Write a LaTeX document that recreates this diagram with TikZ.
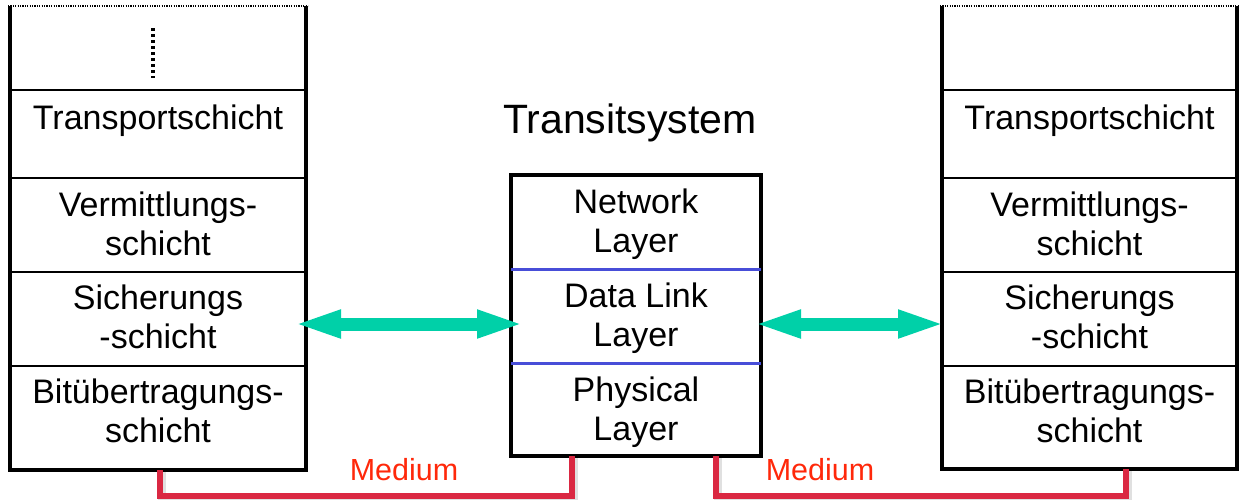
\documentclass[tikz,border=0pt]{standalone}
\usepackage{fontspec}
\setmainfont{Liberation Sans}
\usetikzlibrary{arrows.meta}
\definecolor{arrowgreen}{RGB}{0,208,168}
\definecolor{layerblue}{RGB}{72,78,216}
\definecolor{mediumline}{RGB}{218,40,66}
\definecolor{mediumtext}{RGB}{255,40,10}
\begin{document}
\begin{tikzpicture}[x=1pt,y=-1pt,
  cell/.style={rectangle, draw, line width=2.4pt, inner sep=0pt, outer sep=0pt, minimum width=296pt},
  rcell/.style={cell, minimum width=295pt},
  ccell/.style={rectangle, inner sep=0pt, outer sep=0pt, minimum width=250pt},
  lbl/.style={anchor=north, inner sep=0pt, align=center, font=\fontsize{34}{39.5}\selectfont},
  side/.style={line width=3.6pt},
  topdots/.style={line width=1.2pt, dash pattern=on 1.2pt off 1.2pt},
  vdots/.style={line width=3.4pt, dash pattern=on 3pt off 3pt},
  biarrow/.style={arrowgreen, line width=13pt, {Triangle[length=48pt,width=25pt]}-{Triangle[length=48pt,width=25pt]}},
  medline/.style={mediumline, line width=6pt},
  shadowline/.style={black, opacity=0.12, line width=8pt},
  medtext/.style={text=mediumtext, font=\fontsize{30.5}{35}\selectfont, anchor=base, inner sep=0pt},
]
\useasboundingbox (0,0) rectangle (1239,499);

% ---------- left stack ----------
\node[cell, minimum height=88pt]  (lT) at (158,134) {};
\node[cell, minimum height=94pt]  (lV) at (158,225) {};
\node[cell, minimum height=94pt]  (lS) at (158,319) {};
\node[cell, minimum height=104pt] (lB) at (158,418) {};
\coordinate (lTopL) at (10,6);
\coordinate (lTopR) at (306,6);
\draw[side] (lTopL) -- (lB.south west);
\draw[side] (lTopR) -- (lB.south east);
\draw[side] ([xshift=-1.8pt]lB.south west) -- ([xshift=1.8pt]lB.south east);
\draw[topdots] ([xshift=-2pt]lTopL) -- ([xshift=2pt]lTopR);
\draw[vdots] (153,28) -- (153,78);
\node[lbl] (tlT) at ([yshift=-14.5pt]lT.north) {Transportschicht};
\node[lbl] (tlV) at ([yshift=-13.5pt]lV.north) {Vermittlungs-\\schicht};
\node[lbl] (tlS) at ([yshift=-12.5pt]lS.north) {Sicherungs\\-schicht};
\node[lbl] (tlB) at ([yshift=-12.5pt]lB.north) {Bitübertragungs-\\schicht};

% ---------- right stack ----------
\node[rcell, minimum height=88pt]  (rT) at (1089.5,134) {};
\node[rcell, minimum height=94pt]  (rV) at (1089.5,225) {};
\node[rcell, minimum height=94pt]  (rS) at (1089.5,319) {};
\node[rcell, minimum height=103pt] (rB) at (1089.5,417.5) {};
\coordinate (rTopL) at (942,6);
\coordinate (rTopR) at (1237,6);
\draw[side] (rTopL) -- (rB.south west);
\draw[side] (rTopR) -- (rB.south east);
\draw[side] ([xshift=-1.8pt]rB.south west) -- ([xshift=1.8pt]rB.south east);
\draw[topdots] ([xshift=-2pt]rTopL) -- ([xshift=1pt]rTopR);
\node[lbl] (trT) at ([yshift=-14.5pt]rT.north) {Transportschicht};
\node[lbl] (trV) at ([yshift=-13.5pt]rV.north) {Vermittlungs-\\schicht};
\node[lbl] (trS) at ([yshift=-12.5pt]rS.north) {Sicherungs\\-schicht};
\node[lbl] (trB) at ([yshift=-12.5pt]rB.north) {Bitübertragungs-\\schicht};

% ---------- transit system ----------
\node[font=\fontsize{41}{48}\selectfont, anchor=base, inner sep=0pt] (title) at (630,133) {Transitsystem};
\node[ccell, minimum height=94pt] (cN) at (636,222) {};
\node[ccell, minimum height=94pt] (cD) at (636,316) {};
\node[ccell, minimum height=93pt] (cP) at (636,409.5) {};
\draw[line width=3.6pt] (cN.north west) rectangle (cP.south east);
\draw[layerblue, line width=3pt] (cN.south west) -- (cN.south east);
\draw[layerblue, line width=3pt] (cD.south west) -- (cD.south east);
\node[lbl] (tcN) at ([yshift=-13.5pt]cN.north) {Network\\Layer};
\node[lbl] (tcD) at ([yshift=-13.5pt]cD.north) {Data Link\\Layer};
\node[lbl] (tcP) at ([yshift=-13.5pt]cP.north) {Physical\\Layer};

% ---------- peer arrows ----------
\draw[biarrow] ([shift={(-13,5)}]lS.east) -- ([shift={(14,8)}]cD.west);
\draw[biarrow] ([shift={(-8,8)}]cD.east) -- ([shift={(4,5)}]rS.west);

% ---------- media ----------
\draw[shadowline] ([shift={(4,1)}]lB.south) -- ++(0,27) -| ([shift={(-62,1)}]cP.south);
\draw[shadowline] ([shift={(82,1)}]cP.south) -- ++(0,41) -| ([shift={(38.5,1)}]rB.south);
\draw[medline] ([xshift=2pt]lB.south) -- ++(0,26) -| ([xshift=-64pt]cP.south);
\draw[medline] ([xshift=80pt]cP.south) -- ++(0,40) -| ([xshift=36.5pt]rB.south);
\node[medtext] (med1) at (404,480) {Medium};
\node[medtext] (med2) at (820,480) {Medium};
\end{tikzpicture}
\end{document}
